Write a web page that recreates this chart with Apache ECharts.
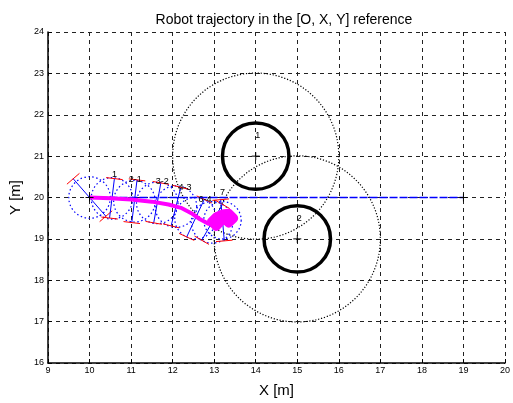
<!DOCTYPE html>
<html><head><meta charset="utf-8">
<script src="https://cdn.jsdelivr.net/npm/echarts@6/dist/echarts.min.js"></script>
<style>html,body{margin:0;padding:0;background:#fff}#c{width:513px;height:403px}</style>
</head><body><div id="c"></div>
<script>
// ---- data ----
const xRange = [9, 20];
const yRange = [16, 24];
// obstacles: centre x, centre y, radius, safety radius
const obstX = [14, 15];
const obstY = [21, 19];
const obstR = [0.8, 0.8];
const obstSafeR = [2, 2];
const obstLabels = ['1', '2'];
const target = [19, 20];
const start = [10, 20];
// robot trajectory (magenta)
const trajX = [10.0, 10.5, 11.0, 11.5, 11.9, 12.2, 12.45, 12.65, 12.85, 13.0, 13.05, 13.16, 13.05, 12.94, 13.05, 13.2, 13.35, 13.47, 13.35, 13.23, 13.35, 13.2];
const trajY = [20.0, 19.98, 19.95, 19.9, 19.83, 19.75, 19.62, 19.48, 19.37, 19.33, 19.53, 19.42, 19.3, 19.42, 19.53, 19.6, 19.62, 19.5, 19.38, 19.5, 19.62, 19.45];
// robot poses: centre, axle angle (deg), axle half length, footprint radius
const poseX = [10.0, 10.54, 11.08, 11.63, 12.08, 12.55, 12.95, 13.2];
const poseY = [20.0, 19.98, 19.91, 19.87, 19.78, 19.5, 19.4, 19.45];
const poseAngle = [131, 83, 83, 80, 76, 65, 60, 95];
const poseHalf = [0.6, 0.48, 0.52, 0.49, 0.48, 0.5, 0.5, 0.5];
const poseRadius = [0.5, 0.5, 0.5, 0.5, 0.5, 0.5, 0.5, 0.45];
// pose labels
const poseLabelText = ['1', '2-1', '3-2', '4-3', '6-4', '7'];
const poseLabelX = [10.6, 11.1, 11.75, 12.3, 12.78, 13.2];
const poseLabelY = [20.55, 20.43, 20.39, 20.23, 19.94, 20.11];

const FONT = "'Liberation Sans', Arial, sans-serif";
const chart = echarts.init(document.getElementById('c'));

const zip = (a, b) => a.map((v, i) => [v, b[i]]);
const allLabelText = poseLabelText.concat(obstLabels);
const allLabelPos = poseLabelX.map((v, i) => [v, poseLabelY[i]])
  .concat(obstX.map((v, i) => [v + 0.05, obstY[i] + 0.5]));

function circleRender(stroke, width, dash) {
  return function (params, api) {
    const c = api.coord([api.value(0), api.value(1)]);
    const r = api.size([api.value(2), 0])[0];
    return { type: 'circle', shape: { cx: c[0], cy: c[1], r: r },
      style: { fill: 'none', stroke: stroke, lineWidth: width, lineDash: dash } };
  };
}
function plusRender(params, api) {
  const c = api.coord([api.value(0), api.value(1)]);
  const s = 4;
  return { type: 'group', children: [
    { type: 'line', shape: { x1: c[0] - s, y1: c[1], x2: c[0] + s, y2: c[1] }, style: { stroke: '#000', lineWidth: 1 } },
    { type: 'line', shape: { x1: c[0], y1: c[1] - s, x2: c[0], y2: c[1] + s }, style: { stroke: '#000', lineWidth: 1 } }
  ] };
}
function textRender(params, api) {
  const c = api.coord([api.value(0), api.value(1)]);
  return { type: 'text', x: c[0], y: c[1],
    style: { text: allLabelText[params.dataIndex], fill: '#000', font: '9px ' + FONT, align: 'center', verticalAlign: 'middle' } };
}
function poseRender(params, api) {
  const x = api.value(0), y = api.value(1), ang = api.value(2) * Math.PI / 180;
  const L = api.value(3), R = api.value(4), W = 0.2;
  const ca = Math.cos(ang), sa = Math.sin(ang);
  const hc = Math.cos(ang - Math.PI / 2), hs = Math.sin(ang - Math.PI / 2);
  const c = api.coord([x, y]);
  const r = api.size([R, 0])[0];
  const e1 = [x + L * ca, y + L * sa], e2 = [x - L * ca, y - L * sa];
  const p = (pt) => api.coord(pt);
  const a1 = p(e1), a2 = p(e2);
  const w1a = p([e1[0] + W * hc, e1[1] + W * hs]), w1b = p([e1[0] - W * hc, e1[1] - W * hs]);
  const w2a = p([e2[0] + W * hc, e2[1] + W * hs]), w2b = p([e2[0] - W * hc, e2[1] - W * hs]);
  return { type: 'group', children: [
    { type: 'circle', shape: { cx: c[0], cy: c[1], r: r }, style: { fill: 'none', stroke: '#0000ff', lineWidth: 1.2, lineDash: [1.5, 2.5] } },
    { type: 'line', shape: { x1: a1[0], y1: a1[1], x2: a2[0], y2: a2[1] }, style: { stroke: '#0000ff', lineWidth: 1 } },
    { type: 'line', shape: { x1: w1a[0], y1: w1a[1], x2: w1b[0], y2: w1b[1] }, style: { stroke: '#ff0000', lineWidth: 1 } },
    { type: 'line', shape: { x1: w2a[0], y1: w2a[1], x2: w2b[0], y2: w2b[1] }, style: { stroke: '#ff0000', lineWidth: 1 } }
  ] };
}

const option = {
  animation: false,
  backgroundColor: '#fff',
  title: { text: 'Robot trajectory in the [O, X, Y] reference', left: 279, top: 8, textAlign: 'center',
    textStyle: { fontFamily: FONT, fontSize: 14, fontWeight: 'normal', color: '#000' } },
  grid: { left: 48, top: 32, width: 462, height: 335, containLabel: false },
  xAxis: { type: 'value', min: xRange[0], max: xRange[1], interval: 1,
    name: 'X [m]', nameLocation: 'middle', nameGap: 20,
    nameTextStyle: { fontFamily: FONT, fontSize: 15, color: '#000' },
    axisLine: { lineStyle: { color: '#000', width: 1.5 } },
    axisTick: { inside: true, length: 4, lineStyle: { color: '#000' } },
    axisLabel: { fontFamily: FONT, fontSize: 9, color: '#000', margin: 3 },
    splitLine: { show: true, lineStyle: { color: '#222', type: [4, 4], width: 1 } } },
  yAxis: { type: 'value', min: yRange[0], max: yRange[1], interval: 1,
    name: 'Y [m]', nameLocation: 'middle', nameGap: 19,
    nameTextStyle: { fontFamily: FONT, fontSize: 15, color: '#000' },
    axisLine: { show: true, lineStyle: { color: '#000', width: 1.5 } },
    axisTick: { show: true, inside: true, length: 4, lineStyle: { color: '#000' } },
    axisLabel: { fontFamily: FONT, fontSize: 9, color: '#000', margin: 4 },
    splitLine: { show: true, lineStyle: { color: '#222', type: [4, 4], width: 1 } } },
  series: [
    { type: 'line', data: [start, target], showSymbol: false, silent: true,
      lineStyle: { color: '#0000ff', width: 1.6, type: [8, 2] }, z: 10 },
    { type: 'custom', renderItem: circleRender('#000', 1.2, [1.2, 1.8]), encode: { x: 0, y: 1 },
      data: obstX.map((v, i) => [v, obstY[i], obstSafeR[i]]), z: 3 },
    { type: 'custom', renderItem: circleRender('#000', 3.5, null), encode: { x: 0, y: 1 },
      data: obstX.map((v, i) => [v, obstY[i], obstR[i]]), z: 4 },
    { type: 'custom', renderItem: poseRender, encode: { x: 0, y: 1 },
      data: poseX.map((v, i) => [v, poseY[i], poseAngle[i], poseHalf[i], poseRadius[i]]), z: 5 },
    { type: 'line', data: zip(trajX.slice(0, 10), trajY.slice(0, 10)), showSymbol: false, silent: true,
      lineStyle: { color: '#ff00ff', width: 4 }, z: 11 },
    { type: 'line', data: zip(trajX.slice(9), trajY.slice(9)), showSymbol: false, silent: true,
      lineStyle: { color: '#ff00ff', width: 9, join: 'round' }, z: 11 },
    { type: 'custom', renderItem: plusRender, encode: { x: 0, y: 1 },
      data: [[obstX[0], obstY[0]], [obstX[1], obstY[1]], target, start], z: 12 },
    { type: 'custom', renderItem: textRender, encode: { x: 0, y: 1 },
      data: allLabelPos, z: 13 }
  ]
};
chart.setOption(option);
</script></body></html>
